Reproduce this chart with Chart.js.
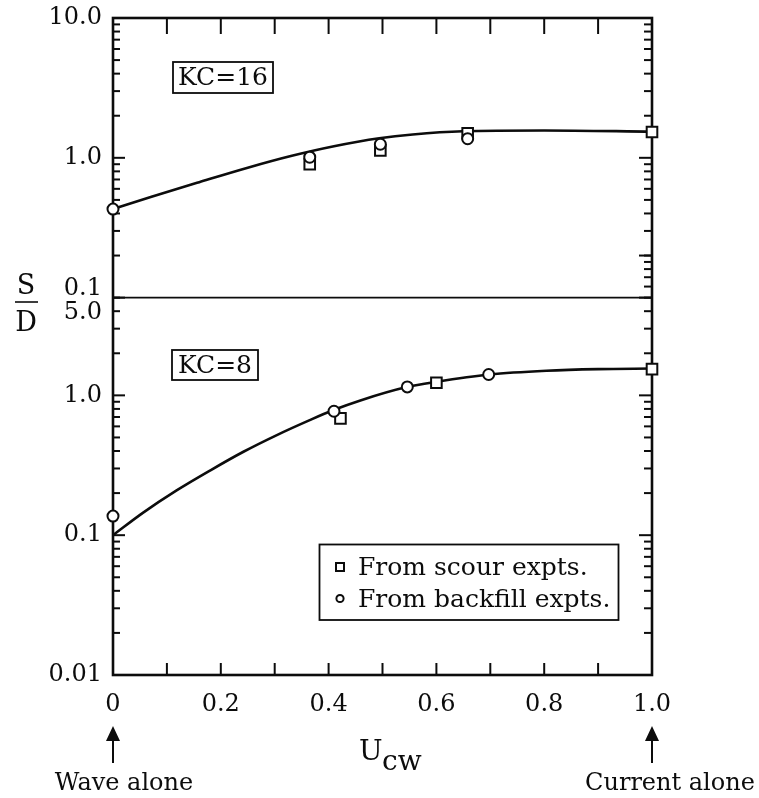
<!DOCTYPE html>
<html><head><meta charset="utf-8">
<script src="https://cdn.jsdelivr.net/npm/chart.js@4.4.1/dist/chart.umd.min.js"></script>
<style>html,body{margin:0;padding:0;background:#fff}#wrap{width:759px;height:798px;position:relative}</style>
</head><body><div id="wrap"><canvas id="c" width="759" height="798"></canvas></div>
<script>
// ---- axis ticks ----
const xTickValues = [0, 0.2, 0.4, 0.6, 0.8, 1.0];
const xTickLabels = ['0', '0.2', '0.4', '0.6', '0.8', '1.0'];
const xMinorTicks = [0.1, 0.2, 0.3, 0.4, 0.5, 0.6, 0.7, 0.8, 0.9];
const topTickValues = [0.1, 1, 10];
const topTickLabels = [['0.1', ''], '1.0', '10.0'];
const botTickValues = [0.01, 0.1, 1, 5];
const botTickLabels = ['0.01', '0.1', '1.0', ['', '5.0']];

// ---- KC = 16 (upper panel) ----
const kc16CurveU = [0, 0.07, 0.16, 0.25, 0.33, 0.41, 0.494, 0.556, 0.649, 0.80, 1.0];
const kc16CurveS = [0.43, 0.525, 0.67, 0.85, 1.03, 1.21, 1.38, 1.47, 1.55, 1.57, 1.54];
const kc16ScourU = [0.365, 0.496, 0.658, 1.0];
const kc16ScourS = [0.90, 1.13, 1.50, 1.53];
const kc16BackU = [0, 0.365, 0.496, 0.658];
const kc16BackS = [0.43, 1.01, 1.25, 1.37];

// ---- KC = 8 (lower panel) ----
const kc8CurveU = [0, 0.056, 0.118, 0.18, 0.242, 0.304, 0.365, 0.409, 0.459, 0.545, 0.60, 0.699, 0.804, 0.9, 1.0];
const kc8CurveS = [0.10, 0.145, 0.209, 0.29, 0.395, 0.52, 0.665, 0.785, 0.92, 1.146, 1.25, 1.41, 1.50, 1.54, 1.555];
const kc8ScourU = [0.422, 0.600, 1.0];
const kc8ScourS = [0.685, 1.23, 1.54];
const kc8BackU = [0, 0.41, 0.546, 0.697];
const kc8BackS = [0.137, 0.77, 1.15, 1.41];

const seriesLabels = ['From scour expts.', 'From backfill expts.'];
const panelLabels = ['KC=16', 'KC=8'];

const ink = '#0c0c0c';
const serif = '"DejaVu Serif", "Liberation Serif", serif';
const pts = (u, s) => u.map((v, i) => ({x: v, y: s[i]}));

const markerBase = {showLine: false, pointBackgroundColor: '#fff', pointBorderColor: ink, pointBorderWidth: 2, clip: false};
const curveBase = {type: 'line', showLine: true, pointRadius: 0, borderColor: ink, borderWidth: 2.6, cubicInterpolationMode: 'monotone', fill: false, clip: false, order: 3};

function logMarks(min, max) {
  const out = [];
  for (let e = -3; e <= 2; e++) for (let k = 1; k <= 9; k++) {
    const v = k * Math.pow(10, e);
    if (v >= min * 0.999 && v <= max * 1.001) out.push({v: v, major: k === 1});
  }
  return out;
}

const framePlugin = {
  id: 'frame',
  beforeDatasetsDraw(chart) {
    const {ctx, chartArea: a, scales} = chart;
    const yT = scales.yTop, yB = scales.yBot, x = scales.x;
    ctx.save();
    ctx.strokeStyle = ink; ctx.lineCap = 'butt';
    const seg = (x1, y1, x2, y2, w) => { ctx.lineWidth = w; ctx.beginPath(); ctx.moveTo(x1, y1); ctx.lineTo(x2, y2); ctx.stroke(); };
    logMarks(0.1, 10).forEach(t => {
      const p = yT.getPixelForValue(t.v);
      seg(a.left, p, a.left + (t.major ? 12 : 7), p, 2);
      seg(a.right, p, a.right - (t.major ? 13 : 8), p, 2);
    });
    logMarks(0.01, 5).forEach(t => {
      const p = yB.getPixelForValue(t.v);
      seg(a.left, p, a.left + (t.major ? 12 : 7), p, 2);
    });
    logMarks(0.01, 10).forEach(t => {
      const p = yB.getPixelForValue(t.v);
      seg(a.right, p, a.right - (t.major ? 13 : 8), p, 2);
    });
    xMinorTicks.forEach(u => {
      const p = x.getPixelForValue(u);
      seg(p, a.top, p, a.top + 16, 2);
      seg(p, a.bottom, p, a.bottom - 12, 2);
    });
    seg(a.left, yT.bottom, a.right, yT.bottom, 1.6);
    ctx.lineWidth = 2.6;
    ctx.strokeRect(a.left, a.top, a.right - a.left, a.bottom - a.top);
    ctx.restore();
  }
};

const annotPlugin = {
  id: 'annot',
  afterDraw(chart) {
    const {ctx, chartArea: a} = chart;
    ctx.save();
    ctx.fillStyle = ink; ctx.strokeStyle = ink;
    // panel labels
    ctx.lineWidth = 1.8;
    ctx.font = '25px ' + serif; ctx.textAlign = 'center'; ctx.textBaseline = 'middle';
    ctx.strokeRect(173, 62, 100, 31);
    ctx.fillText(panelLabels[0], 223, 78);
    ctx.strokeRect(172, 350, 86, 30);
    ctx.fillText(panelLabels[1], 215, 366);
    // legend
    ctx.strokeRect(319.5, 544.5, 299, 75.5);
    ctx.lineWidth = 2;
    ctx.fillStyle = '#fff';
    ctx.fillRect(336, 563, 8, 8); ctx.strokeRect(336, 563, 8, 8);
    ctx.beginPath(); ctx.arc(340, 598.5, 3.6, 0, Math.PI * 2); ctx.fill(); ctx.stroke();
    ctx.fillStyle = ink;
    ctx.font = '25px ' + serif; ctx.textAlign = 'left';
    ctx.fillText(seriesLabels[0], 358, 568);
    ctx.fillText(seriesLabels[1], 358, 600);
    // y label S/D
    ctx.font = '27px ' + serif; ctx.textAlign = 'center';
    ctx.fillText('S', 26, 287);
    ctx.fillText('D', 26, 324);
    ctx.lineWidth = 1.6;
    ctx.beginPath(); ctx.moveTo(15, 302); ctx.lineTo(38, 302); ctx.stroke();
    // x label U_cw
    ctx.font = '28px ' + serif; ctx.textAlign = 'left'; ctx.textBaseline = 'alphabetic';
    ctx.fillText('U', 359, 760);
    ctx.fillText('cw', 382, 770);
    // arrows
    [a.left, a.right].forEach(xp => {
      ctx.beginPath(); ctx.moveTo(xp, 726); ctx.lineTo(xp - 7, 741); ctx.lineTo(xp + 7, 741); ctx.closePath(); ctx.fill();
      ctx.lineWidth = 2;
      ctx.beginPath(); ctx.moveTo(xp, 738); ctx.lineTo(xp, 763); ctx.stroke();
    });
    ctx.font = '24px ' + serif; ctx.textAlign = 'center'; ctx.textBaseline = 'middle';
    ctx.fillText('Wave alone', 124, 784);
    ctx.fillText('Current alone', 670, 784);
    ctx.restore();
  }
};

const tickFont = {family: serif, size: 24};
const noPad = s => { s.paddingTop = 0; s.paddingBottom = 0; s.paddingLeft = 0; s.paddingRight = 0; };

new Chart(document.getElementById('c'), {
  type: 'scatter',
  data: {
    datasets: [
      Object.assign({label: seriesLabels[1], data: pts(kc16BackU, kc16BackS), yAxisID: 'yTop', pointStyle: 'circle', pointRadius: 5.5, order: 1}, markerBase),
      Object.assign({label: seriesLabels[1], data: pts(kc8BackU, kc8BackS), yAxisID: 'yBot', pointStyle: 'circle', pointRadius: 5.5, order: 1}, markerBase),
      Object.assign({label: seriesLabels[0], data: pts(kc16ScourU, kc16ScourS), yAxisID: 'yTop', pointStyle: 'rect', pointRadius: 7.5, order: 2}, markerBase),
      Object.assign({label: seriesLabels[0], data: pts(kc8ScourU, kc8ScourS), yAxisID: 'yBot', pointStyle: 'rect', pointRadius: 7.5, order: 2}, markerBase),
      Object.assign({label: panelLabels[0], data: pts(kc16CurveU, kc16CurveS), yAxisID: 'yTop'}, curveBase),
      Object.assign({label: panelLabels[1], data: pts(kc8CurveU, kc8CurveS), yAxisID: 'yBot'}, curveBase)
    ]
  },
  options: {
    responsive: false, animation: false, devicePixelRatio: 1,
    layout: {padding: {top: 18, right: 107, left: 0, bottom: 0}},
    plugins: {legend: {display: false}, tooltip: {enabled: false}, title: {display: false}},
    scales: {
      x: {
        type: 'linear', min: 0, max: 1, position: 'bottom',
        grid: {display: false, drawTicks: false}, border: {display: false},
        afterBuildTicks: s => { s.ticks = xTickValues.map(v => ({value: v})); },
        ticks: {callback: (v, i) => xTickLabels[i], font: tickFont, color: ink, padding: 15, maxRotation: 0, autoSkip: false},
        afterFit: s => { s.height = 123; noPad(s); }
      },
      yBot: {
        type: 'logarithmic', position: 'left', stack: 'panels', stackWeight: Math.log10(5 / 0.01),
        min: 0.01, max: 5,
        grid: {display: false, drawTicks: false}, border: {display: false},
        afterBuildTicks: s => { s.ticks = botTickValues.map(v => ({value: v})); },
        ticks: {callback: (v, i) => botTickLabels[i], font: {family: serif, size: 24, lineHeight: 1.28}, color: ink, padding: 11, autoSkip: false},
        afterFit: s => { s.width = 113; noPad(s); }
      },
      yTop: {
        type: 'logarithmic', position: 'left', stack: 'panels', stackWeight: 2,
        min: 0.1, max: 10,
        grid: {display: false, drawTicks: false}, border: {display: false},
        afterBuildTicks: s => { s.ticks = topTickValues.map(v => ({value: v})); },
        ticks: {callback: (v, i) => topTickLabels[i], font: {family: serif, size: 24, lineHeight: 0.75}, color: ink, padding: 11, autoSkip: false},
        afterFit: s => { s.width = 113; noPad(s); }
      }
    }
  },
  plugins: [framePlugin, annotPlugin]
});
</script>
</body></html>
